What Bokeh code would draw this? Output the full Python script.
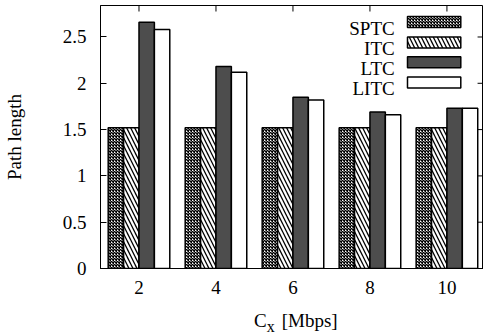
from bokeh.plotting import figure
from bokeh.models import Range1d, Label, FixedTicker, Div
from bokeh.layouts import column
from bokeh.embed import file_html
from bokeh.resources import INLINE

# ---- data ----
cx = [2, 4, 6, 8, 10]
series_names = ["SPTC", "ITC", "LTC", "LITC"]
sptc = [1.52, 1.52, 1.52, 1.52, 1.52]
itc = [1.52, 1.52, 1.52, 1.52, 1.52]
ltc = [2.66, 2.18, 1.85, 1.69, 1.73]
litc = [2.58, 2.12, 1.82, 1.66, 1.73]
y_ticks = [0, 0.5, 1, 1.5, 2, 2.5]
y_tick_labels = ["0", "0.5", "1", "1.5", "2", "2.5"]
x_tick_labels = ["2", "4", "6", "8", "10"]
y_axis_title = "Path length"
x_axis_title_main = "C"
x_axis_title_sub = "x"
x_axis_title_rest = "[Mbps]"

# ---- layout ----
PAGE_X, PAGE_Y = 8, 0          # observed figure origin on the page
W, H = 483, 304
FL, FT, FR, FB = 103, 5, 491, 268   # frame edges in page pixels
X0, X1 = 1.0, 10.95
Y0, Y1 = 0.0, 2.84
FONT = "Liberation Serif"
FS = "19px"
TICK = 6  # px


def dx(px):
    return X0 + (px - FL) * (X1 - X0) / (FR - FL)


def dy(py):
    return Y0 + (FB - py) * (Y1 - Y0) / (FB - FT)


p = figure(width=W, height=H, x_range=Range1d(X0, X1), y_range=Range1d(Y0, Y1),
           output_backend="svg", toolbar_location=None,
           min_border_left=FL - PAGE_X, min_border_right=0,
           min_border_top=FT - PAGE_Y, min_border_bottom=PAGE_Y + H - FB)
p.grid.visible = False
p.outline_line_color = "black"
p.outline_line_width = 1
p.background_fill_color = "white"
p.border_fill_color = "white"


def style_axis(ax, ticks, overrides):
    ax.ticker = FixedTicker(ticks=ticks)
    ax.major_label_overrides = overrides
    ax.minor_tick_line_color = None
    ax.major_tick_in = TICK
    ax.major_tick_out = 0
    ax.major_tick_line_color = "black"
    ax.axis_line_color = "black"
    ax.major_label_text_font = FONT
    ax.major_label_text_font_style = "normal"
    ax.major_label_text_font_size = FS
    ax.major_label_text_color = "black"


bottom_ax = p.xaxis[0]
left_ax = p.yaxis[0]
style_axis(bottom_ax, cx, dict(zip(cx, x_tick_labels)))
bottom_ax.major_label_standoff = 12
style_axis(left_ax, y_ticks, dict(zip(y_ticks, y_tick_labels)))
left_ax.major_label_standoff = 14
left_ax.axis_label = y_axis_title
left_ax.axis_label_text_font = FONT
left_ax.axis_label_text_font_size = FS
left_ax.axis_label_text_font_style = "normal"
left_ax.axis_label_text_color = "black"
left_ax.axis_label_standoff = 35

# mirrored ticks on top and right (no labels)
px_per_x = (FR - FL) / (X1 - X0)
px_per_y = (FB - FT) / (Y1 - Y0)
p.segment(x0=cx, y0=[Y1] * len(cx), x1=cx, y1=[Y1 - TICK / px_per_y] * len(cx),
          line_color="black", line_width=1)
p.segment(x0=[X1] * len(y_ticks), y0=y_ticks, x1=[X1 - TICK / px_per_x] * len(y_ticks),
          y1=y_ticks, line_color="black", line_width=1)

styles = [
    dict(fill_color="white", hatch_pattern="x", hatch_scale=3, hatch_weight=1.5, hatch_color="black"),
    dict(fill_color="white", hatch_pattern="\\", hatch_scale=8, hatch_weight=1.3, hatch_color="black"),
    dict(fill_color="#4d4d4d"),
    dict(fill_color="white"),
]
offsets = [-0.6, -0.2, 0.2, 0.6]
bar_w = 0.4
values = [sptc, itc, ltc, litc]

for vals, off, st in zip(values, offsets, styles):
    p.vbar(x=[c + off for c in cx], top=vals, bottom=0, width=bar_w,
           line_color="black", line_width=1.5, **st)

# ---- legend (text left, swatch right) ----
sw_left, sw_right, text_right = 414, 468, 401
row_tops = [16.0, 36.5, 56.3, 76.6]
sw_h = 11
for name, top, st in zip(series_names, row_tops, styles):
    p.quad(left=[dx(sw_left)], right=[dx(sw_right)], top=[dy(top)], bottom=[dy(top + sw_h)],
           line_color="black", line_width=1.5, **st)
    p.add_layout(Label(x=dx(text_right), y=dy(top + sw_h + 0.5), text=name, text_align="right",
                       text_baseline="alphabetic", text_font=FONT, text_font_size=FS,
                       text_color="black"))

# ---- x axis title with subscript, as HTML below the plot ----
TITLE_LEFT = 262
title_html = (
    f'{x_axis_title_main}'
    f'<span style="font-size:16px;position:relative;top:5px;">{x_axis_title_sub}</span>'
    f'<span style="margin-left:7px;">{x_axis_title_rest}</span>'
)
div = Div(text=title_html, width=130, height=24, margin=(6, 0, 0, TITLE_LEFT - PAGE_X),
          styles={"text-align": "left", "font-family": "'Liberation Serif', serif",
                  "font-size": FS, "line-height": "22px", "color": "black",
                  "white-space": "nowrap"})

layout = column(p, div, spacing=0)
open("out.html", "w").write(file_html(layout, INLINE))
